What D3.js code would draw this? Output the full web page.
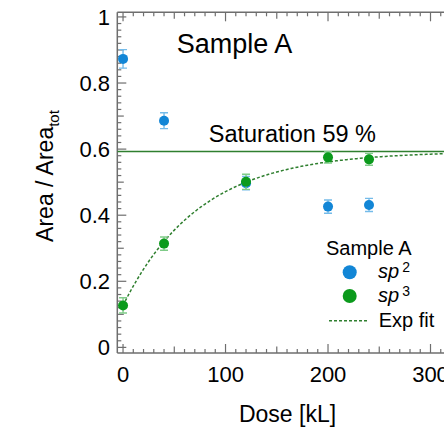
<!DOCTYPE html>
<html>
<head>
<meta charset="utf-8">
<script src="https://cdn.jsdelivr.net/npm/d3@7"></script>
<style>
  html, body { margin: 0; padding: 0; background: #fff; }
  svg { display: block; font-family: "Liberation Sans", Arial, Helvetica, sans-serif; }
</style>
</head>
<body>
<svg id="chart" width="444" height="427"></svg>
<script>
// Measured fractions of the total area versus irradiation dose
const dose = [0, 40, 120, 200, 240];
const sp2 = [0.873, 0.686, 0.497, 0.426, 0.431];
const sp2Err = [0.028, 0.024, 0.02, 0.02, 0.02];
const sp3 = [0.127, 0.314, 0.501, 0.575, 0.569];
const sp3Err = [0.023, 0.02, 0.023, 0.017, 0.018];

// Exponential saturation fit of the sp3 fraction
const saturation = 0.593;
const fitStart = 0.127;
const fitTau = 74.5;

const xTickLabels = [0, 100, 200, 300];
const yTickLabels = [0, 0.2, 0.4, 0.6, 0.8, 1];

const svg = d3.select("#chart");
const W = 444, H = 427;

const x = d3.scaleLinear().domain([-5.6, 320]).range([117.3, 451]);
const y = d3.scaleLinear().domain([-0.017, 1.014]).range([353, 12.3]);

const [x0, x1] = x.range();
const [yb, yt] = y.range();

const axisColor = "#6e6e6e";
const blue = "#1286d6", blueErr = "#74bbe9";
const green = "#0b9a1c", greenErr = "#7fcb88";
const lineGreen = "#2f7f2f";

const clip = svg.append("defs").append("clipPath").attr("id", "plot")
  .append("rect").attr("x", x0).attr("y", yt).attr("width", W - x0).attr("height", yb - yt);

// Frame lines (left, bottom, top)
const frame = svg.append("g").attr("stroke", axisColor).attr("stroke-width", 1.5).attr("fill", "none");
frame.append("line").attr("x1", x0).attr("x2", x0).attr("y1", yt).attr("y2", yb);
frame.append("line").attr("x1", x0).attr("x2", W).attr("y1", yb).attr("y2", yb);
frame.append("line").attr("x1", x0).attr("x2", W).attr("y1", yt).attr("y2", yt);

// Ticks: minor every 10 / 0.02, medium every 50 / 0.1, major every 100 / 0.2
const ticks = svg.append("g").attr("stroke", axisColor).attr("stroke-width", 1.2);
d3.range(0, 321, 10).forEach(v => {
  const len = v % 100 === 0 ? 9 : (v % 50 === 0 ? 6.5 : 4);
  const px = x(v);
  if (px > W) return;
  ticks.append("line").attr("x1", px).attr("x2", px).attr("y1", yb).attr("y2", yb - len);
  ticks.append("line").attr("x1", px).attr("x2", px).attr("y1", yt).attr("y2", yt + len);
});
d3.range(0, 51, 1).forEach(i => {
  const v = i * 0.02;
  const len = i % 10 === 0 ? 9 : (i % 5 === 0 ? 6.5 : 4);
  ticks.append("line").attr("x1", x0).attr("x2", x0 + len).attr("y1", y(v)).attr("y2", y(v));
});

// Tick labels
svg.append("g").selectAll("text").data(xTickLabels).join("text")
  .attr("x", d => x(d)).attr("y", 381.5)
  .attr("text-anchor", "middle").attr("font-size", 22).attr("fill", "#000")
  .text(d => d);
svg.append("g").selectAll("text").data(yTickLabels).join("text")
  .attr("x", 110).attr("y", d => y(d) + 8)
  .attr("text-anchor", "end").attr("font-size", 22).attr("fill", "#000")
  .text(d => d);

// Axis titles
svg.append("text").attr("x", 287.5).attr("y", 421.5)
  .attr("text-anchor", "middle").attr("font-size", 23).text("Dose [kL]");
const yTitle = svg.append("text")
  .attr("transform", "translate(52.5,176) rotate(-90)")
  .attr("text-anchor", "middle").attr("font-size", 23);
yTitle.append("tspan").text("Area / Area");
yTitle.append("tspan").attr("font-size", 15).attr("dy", 6).text("tot");

const plot = svg.append("g").attr("clip-path", "url(#plot)");

// Saturation level
plot.append("line")
  .attr("x1", x0).attr("x2", W).attr("y1", y(saturation)).attr("y2", y(saturation))
  .attr("stroke", lineGreen).attr("stroke-width", 1.5);

// Fit curve
const fitX = d3.range(0, 321, 2);
const fitLine = d3.line()
  .x(d => x(d))
  .y(d => y(saturation - (saturation - fitStart) * Math.exp(-d / fitTau)));
plot.append("path").datum(fitX).attr("d", fitLine)
  .attr("fill", "none").attr("stroke", lineGreen).attr("stroke-width", 1.5)
  .attr("stroke-dasharray", "3,2");

// Points with error bars
function series(vals, errs, col, errCol) {
  const g = plot.append("g");
  const pts = dose.map((d, i) => ({ d, v: vals[i], e: errs[i] }));
  const eb = g.append("g").attr("stroke", errCol).attr("stroke-width", 1.4);
  pts.forEach(p => {
    eb.append("line").attr("x1", x(p.d)).attr("x2", x(p.d)).attr("y1", y(p.v - p.e)).attr("y2", y(p.v + p.e));
    [p.v - p.e, p.v + p.e].forEach(c =>
      eb.append("line").attr("x1", x(p.d) - 4).attr("x2", x(p.d) + 4).attr("y1", y(c)).attr("y2", y(c)));
  });
  g.selectAll("circle").data(pts).join("circle")
    .attr("cx", p => x(p.d)).attr("cy", p => y(p.v)).attr("r", 5).attr("fill", col);
}
series(sp2, sp2Err, blue, blueErr);
series(sp3, sp3Err, green, greenErr);

// Panel title
svg.append("text").attr("x", 234.5).attr("y", 53.3)
  .attr("text-anchor", "middle").attr("font-size", 27).text("Sample A");

// Saturation label
svg.append("text").attr("x", 376).attr("y", 141.7)
  .attr("text-anchor", "end").attr("font-size", 23.5)
  .text(`Saturation ${Math.round(saturation * 100)} %`);

// Legend
const lg = svg.append("g");
lg.append("text").attr("x", 326).attr("y", 255).attr("font-size", 20).text("Sample A");
[[blue, 272.3, "2"], [green, 296, "3"]].forEach(([c, cy, sup]) => {
  lg.append("circle").attr("cx", 349.7).attr("cy", cy).attr("r", 7).attr("fill", c);
  const t = lg.append("text").attr("x", 378).attr("y", cy + 6).attr("font-size", 20);
  t.append("tspan").attr("font-style", "italic").text("sp");
  t.append("tspan").attr("dx", 3).attr("dy", -6).attr("font-size", 14).text(sup);
});
lg.append("line").attr("x1", 329).attr("x2", 369).attr("y1", 320.7).attr("y2", 320.7)
  .attr("stroke", lineGreen).attr("stroke-width", 1.5).attr("stroke-dasharray", "3,2");
lg.append("text").attr("x", 378.7).attr("y", 327).attr("font-size", 20).text("Exp fit");
</script>
</body>
</html>
